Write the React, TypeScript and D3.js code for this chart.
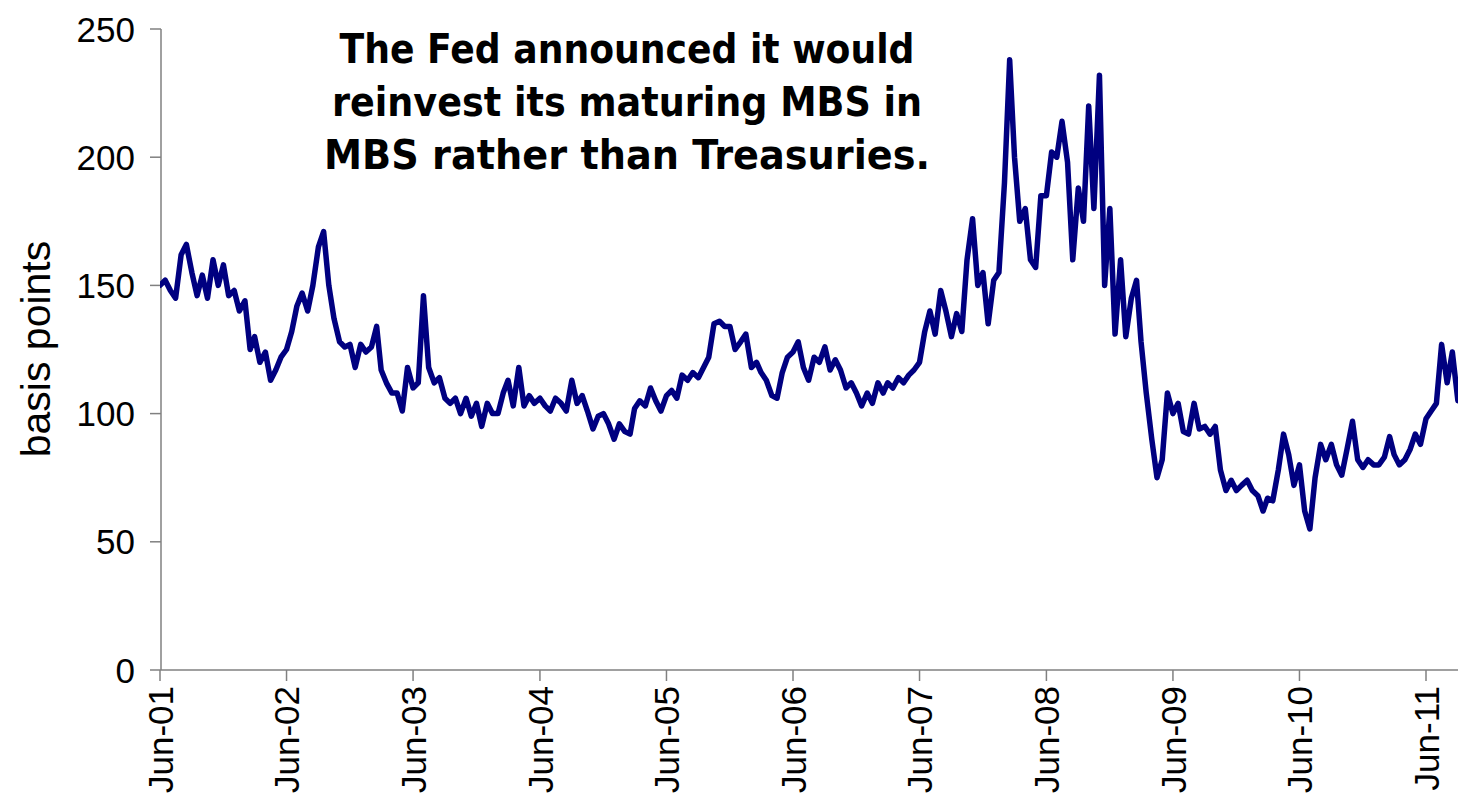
import React from "react";
import * as d3 from "d3";

// Spread (basis points), semi-monthly readings starting 1 Jun 2001 (1st and 16th of each month)
const values: number[] = [
  150, 152, 148, 145, 162, 166, 155, 146, 154, 145, 160, 150, 158, 146, 148, 140, 144, 125, 130, 120, 124, 113, 117, 122, 125,
  132, 142, 147, 140, 150, 165, 171, 150, 137, 128, 126, 127, 118, 127, 124, 126, 134, 117, 112, 108, 108, 101, 118, 110,
  112, 146, 118, 112, 114, 106, 104, 106, 100, 106, 99, 104, 95, 104, 100, 100, 108, 113, 103, 118, 103, 107, 104, 106,
  103, 101, 106, 104, 101, 113, 104, 107, 101, 94, 99, 100, 96, 90, 96, 93, 92, 102, 105, 103, 110, 105, 101, 107,
  109, 106, 115, 113, 116, 114, 118, 122, 135, 136, 134, 134, 125, 128, 131, 118, 120, 116, 113, 107, 106, 116, 122, 124,
  128, 118, 113, 122, 120, 126, 117, 121, 117, 110, 112, 108, 103, 108, 104, 112, 108, 112, 110, 114, 112, 115, 117, 120,
  132, 140, 131, 148, 140, 130, 139, 132, 160, 176, 150, 155, 135, 152, 155, 190, 238, 200, 175, 180, 160, 157, 185, 185,
  202, 200, 214, 198, 160, 188, 175, 220, 180, 232, 150, 180, 131, 160, 130, 145, 152, 128, 108, 90, 75, 82, 108, 100,
  104, 93, 92, 104, 94, 95, 92, 95, 78, 70, 74, 70, 72, 74, 70, 68, 62, 67, 66, 78, 92, 84, 72, 80, 62, 55, 75, 88,
  82, 88, 80, 76, 86, 97, 82, 79, 82, 80, 80, 83, 91, 84, 80, 82, 86, 92, 88, 98, 101, 104, 127, 112, 124, 105,
];

const yTicks: number[] = [0, 50, 100, 150, 200, 250];
const xTickYears: number[] = [2001, 2002, 2003, 2004, 2005, 2006, 2007, 2008, 2009, 2010, 2011];
const noteLines: string[] = [
  "The Fed announced it would",
  "reinvest its maturing MBS in",
  "MBS rather than Treasuries.",
];
const noteWidths: number[] = [575, 590, 606];

const W = 1458;
const H = 801;

export default function App() {
  const dates = values.map((_, i) => new Date(2001, 5 + Math.floor(i / 2), i % 2 === 0 ? 1 : 16));
  const x = d3
    .scaleTime()
    .domain([new Date(2001, 5, 1), new Date(2011, 5, 1)])
    .range([160, 1426]);
  const y = d3.scaleLinear().domain([0, 250]).range([670, 29]);
  const line = d3
    .line<number>()
    .x((_, i) => x(dates[i]))
    .y((d) => y(d));

  const axisColor = "#808080";
  const tickFont = "'Liberation Sans', Arial, sans-serif";

  return (
    <div style={{ position: "absolute", left: 0, top: 0 }}>
      <svg width={W} height={H} style={{ display: "block", background: "#fff" }}>
        <defs>
          <clipPath id="plot">
            <rect x={160} y={0} width={W - 160} height={680} />
          </clipPath>
        </defs>
        {/* y axis */}
        <line x1={161} x2={161} y1={y(250)} y2={y(0)} stroke={axisColor} strokeWidth={1.5} />
        {yTicks.map((t) => (
          <g key={t}>
            <line x1={150} x2={161} y1={y(t)} y2={y(t)} stroke={axisColor} strokeWidth={1.5} />
            <text
              x={135}
              y={y(t)}
              dy="0.36em"
              textAnchor="end"
              fontFamily={tickFont}
              fontSize={35}
              fill="#000"
            >
              {t}
            </text>
          </g>
        ))}
        <text
          transform={`translate(50, 349) rotate(-90)`}
          textAnchor="middle"
          fontFamily={tickFont}
          fontSize={41}
          fill="#000"
        >
          basis points
        </text>
        {/* x axis */}
        <line x1={161} x2={W} y1={y(0)} y2={y(0)} stroke={axisColor} strokeWidth={1.5} />
        {xTickYears.map((yr) => {
          const px = x(new Date(yr, 5, 1));
          const label = `Jun-${String(yr % 100).padStart(2, "0")}`;
          return (
            <g key={yr}>
              <line x1={px} x2={px} y1={y(0)} y2={y(0) + 11} stroke={axisColor} strokeWidth={1.5} />
              <text
                transform={`translate(${px}, 686) rotate(-90)`}
                dy="0.36em"
                textAnchor="end"
                fontFamily={tickFont}
                fontSize={35}
                fill="#000"
              >
                {label}
              </text>
            </g>
          );
        })}
        {/* series */}
        <path
          d={line(values) || ""}
          fill="none"
          stroke="#000080"
          strokeWidth={5.5}
          strokeLinejoin="round"
          strokeLinecap="round"
          clipPath="url(#plot)"
        />
        {/* annotation */}
        {noteLines.map((s, i) => (
          <text
            key={i}
            x={627}
            y={63 + i * 53}
            textAnchor="middle"
            fontFamily="'Comic Sans MS', 'DejaVu Sans', sans-serif"
            fontWeight="bold"
            fontSize={40}
            textLength={noteWidths[i]}
            lengthAdjust="spacingAndGlyphs"
            fill="#000"
          >
            {s}
          </text>
        ))}
      </svg>
    </div>
  );
}
